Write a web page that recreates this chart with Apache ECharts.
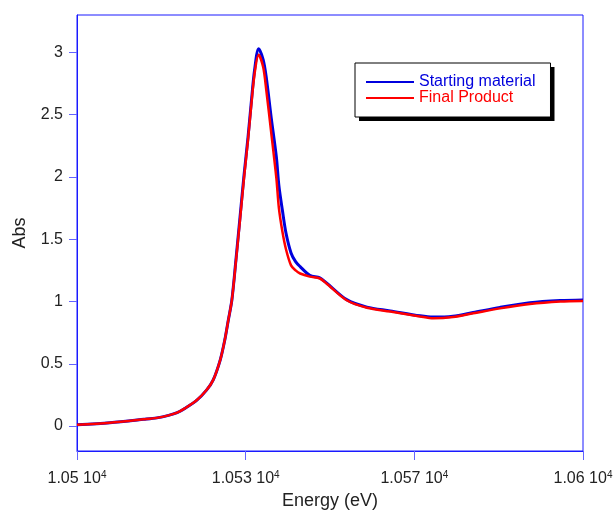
<!DOCTYPE html>
<html>
<head>
<meta charset="utf-8">
<title>Abs</title>
<script src="https://cdn.jsdelivr.net/npm/echarts@6.0.0/dist/echarts.min.js"></script>
<style>
	html, body { margin: 0; padding: 0; background: #fff; }
	#chart { width: 614px; height: 513px; }
</style>
</head>
<body>
<div id="chart"></div>
<script>
// energy (eV)
var energy = [10500, 10506.5, 10513.2, 10515.8, 10518.1, 10519.8, 10521.3, 10523.7, 10525.6, 10526.9,
	10528.3, 10529.2, 10529.9, 10530.6, 10531.4, 10532.2, 10533, 10533.8, 10534.4, 10535.1,
	10535.9, 10536.8, 10537.4, 10538.4, 10539.4, 10539.9, 10540.6, 10541.3, 10542.3, 10543.2,
	10544.1, 10546, 10548, 10549.3, 10553.3, 10557.3, 10561.9, 10567.8, 10570.4, 10574.3,
	10578.3, 10583.6, 10589.5, 10595.5, 10600];

var startAbs = [0.01, 0.027, 0.054, 0.066, 0.086, 0.108, 0.142, 0.209, 0.289, 0.369,
	0.53, 0.69, 0.85, 1.01, 1.33, 1.67, 2.01, 2.32, 2.58, 2.86,
	3.03, 2.94, 2.80, 2.47, 2.16, 1.93, 1.73, 1.55, 1.39, 1.32,
	1.28, 1.21, 1.19, 1.15, 1.015, 0.955, 0.925, 0.885, 0.875, 0.882,
	0.912, 0.953, 0.99, 1.008, 1.013];

var finalAbs = [0.01, 0.027, 0.054, 0.066, 0.086, 0.108, 0.142, 0.209, 0.289, 0.369,
	0.53, 0.69, 0.85, 1.01, 1.32, 1.65, 1.99, 2.30, 2.56, 2.83,
	2.98, 2.88, 2.70, 2.35, 1.99, 1.75, 1.56, 1.42, 1.29, 1.25,
	1.225, 1.20, 1.185, 1.145, 1.01, 0.95, 0.92, 0.88, 0.865, 0.875,
	0.905, 0.945, 0.98, 1.0, 1.005];

var xTicks = [10500, 10533.333, 10566.667, 10600];
var xTickLabels = ['1.05', '1.053', '1.057', '1.06'];
var yTicks = [0, 0.5, 1, 1.5, 2, 2.5, 3];

var seriesNames = ['Starting material', 'Final Product'];
var seriesColors = ['#0000dd', '#ff0000'];

function pairs(xs, ys) {
	var out = [];
	for (var i = 0; i < xs.length; i++) {
		out.push([xs[i], ys[i]]);
	}
	return out;
}

var axisColor = '#1a1aff';
var tickColor = '#6464ff';
var font = '"Liberation Sans", Arial, sans-serif';

// legend box: one with the drop shadow and items, one on top for a clean border
var legendBase = {
	orient: 'vertical',
	left: 355,
	top: 63,
	padding: [11, 15, 11, 10],
	itemGap: 0,
	itemWidth: 48,
	itemHeight: 14,
	textStyle: {fontFamily: font, fontSize: 16}
};

var myChart = echarts.init(document.getElementById('chart'), null, {renderer: 'canvas'});

var option = {
	animation: false,
	backgroundColor: '#fff',
	grid: {
		left: 77,
		right: 31,
		top: 15,
		bottom: 62,
		outerBoundsMode: 'none',
		containLabel: false,
		show: true,
		borderColor: axisColor,
		borderWidth: 1
	},
	legend: [
		echarts.util.merge({
			backgroundColor: '#fff',
			borderWidth: 0,
			shadowColor: '#000',
			shadowBlur: 0,
			shadowOffsetX: 4,
			shadowOffsetY: 4,
			itemStyle: {opacity: 0},
			data: [
				{name: seriesNames[0], textStyle: {color: seriesColors[0]}},
				{name: seriesNames[1], textStyle: {color: seriesColors[1]}}
			]
		}, legendBase, true),
		echarts.util.merge({
			backgroundColor: 'transparent',
			borderColor: '#000',
			borderWidth: 1,
			itemStyle: {opacity: 0},
			lineStyle: {opacity: 0},
			textStyle: {color: 'rgba(0,0,0,0)'},
			data: seriesNames.slice()
		}, legendBase, true)
	],
	xAxis: {
		type: 'value',
		min: 10500,
		max: 10600,
		name: 'Energy (eV)',
		nameLocation: 'middle',
		nameGap: 40,
		nameTextStyle: {fontFamily: font, fontSize: 18, color: '#222'},
		axisLine: {show: true, onZero: false, lineStyle: {color: axisColor, width: 1}},
		axisTick: {show: true, inside: false, length: 9, customValues: xTicks, lineStyle: {color: tickColor}},
		splitLine: {show: false},
		axisLabel: {
			customValues: xTicks,
			margin: 19,
			fontFamily: font,
			color: '#222',
			formatter: function (v) {
				var best = 0;
				for (var i = 1; i < xTicks.length; i++) {
					if (Math.abs(xTicks[i] - v) < Math.abs(xTicks[best] - v)) best = i;
				}
				return '{n|' + xTickLabels[best] + ' 10}{s|4}';
			},
			rich: {
				n: {fontFamily: font, fontSize: 16, color: '#222'},
				s: {fontFamily: font, fontSize: 10, color: '#222', padding: [0, 0, 8, 0]}
			}
		}
	},
	yAxis: {
		type: 'value',
		min: -0.2,
		max: 3.3,
		name: 'Abs',
		nameLocation: 'middle',
		nameGap: 48,
		nameTextStyle: {fontFamily: font, fontSize: 18, color: '#222'},
		axisLine: {show: true, onZero: false, lineStyle: {color: axisColor, width: 1}},
		axisTick: {show: true, inside: false, length: 8, customValues: yTicks, lineStyle: {color: tickColor}},
		splitLine: {show: false},
		axisLabel: {
			customValues: yTicks,
			margin: 14,
			fontFamily: font,
			fontSize: 16,
			color: '#222'
		}
	},
	series: [
		{
			name: seriesNames[0],
			type: 'line',
			data: pairs(energy, startAbs),
			smooth: 0.3,
			symbol: 'none',
			lineStyle: {color: seriesColors[0], width: 3},
			itemStyle: {color: seriesColors[0]}
		},
		{
			name: seriesNames[1],
			type: 'line',
			data: pairs(energy, finalAbs),
			smooth: 0.3,
			symbol: 'none',
			lineStyle: {color: seriesColors[1], width: 2.5},
			itemStyle: {color: seriesColors[1]}
		}
	]
};

myChart.setOption(option);
</script>
</body>
</html>
